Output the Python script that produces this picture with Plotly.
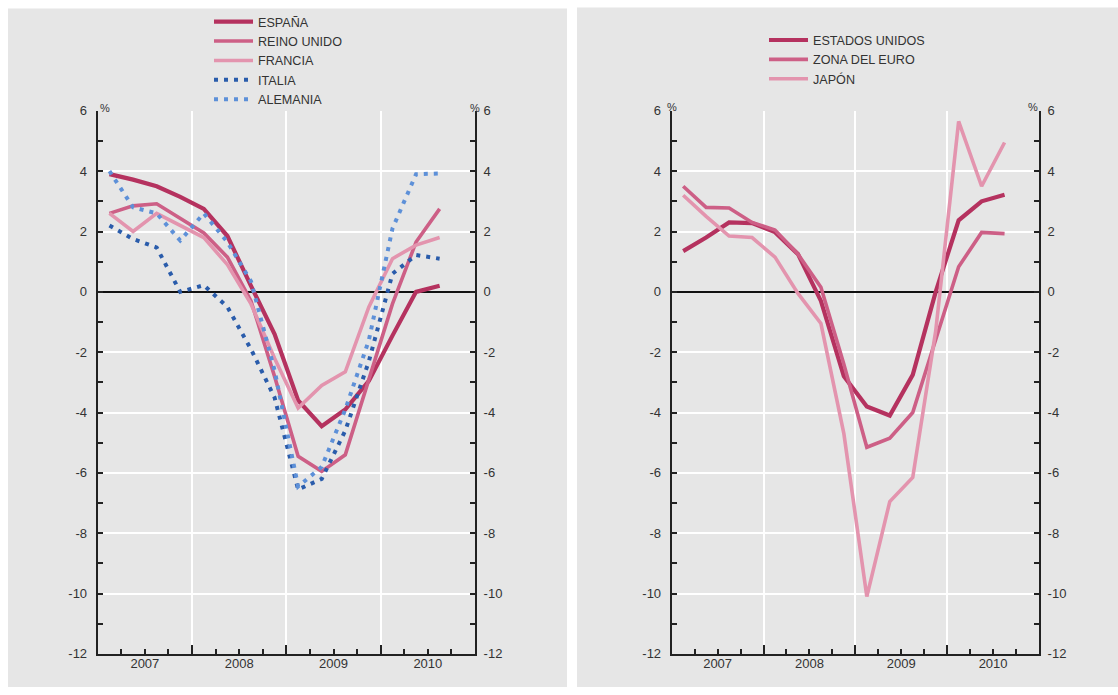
import plotly.graph_objects as go

# ---------------- data ----------------
quarters = ["2007-T1", "2007-T2", "2007-T3", "2007-T4",
            "2008-T1", "2008-T2", "2008-T3", "2008-T4",
            "2009-T1", "2009-T2", "2009-T3", "2009-T4",
            "2010-T1", "2010-T2", "2010-T3"]
years = ["2007", "2008", "2009", "2010"]
y_tick_values = [6, 4, 2, 0, -2, -4, -6, -8, -10, -12]
y_tick_labels = ["6", "4", "2", "0", "-2", "-4", "-6", "-8", "-10", "-12"]

espana = [3.9, 3.72, 3.5, 3.15, 2.75, 1.85, 0.2, -1.4, -3.6, -4.45, -3.9, -2.95, -1.45, 0.0, 0.2]
reino_unido = [2.6, 2.85, 2.92, 2.45, 1.95, 1.15, -0.3, -2.8, -5.45, -5.95, -5.4, -2.9, -0.4, 1.65, 2.75]
francia = [2.6, 2.0, 2.6, 2.2, 1.8, 0.9, -0.4, -2.2, -3.85, -3.1, -2.65, -0.5, 1.1, 1.55, 1.8]
italia = [2.2, 1.75, 1.47, 0.0, 0.22, -0.5, -1.9, -3.5, -6.55, -6.2, -4.6, -2.3, 0.6, 1.22, 1.1]
alemania = [4.0, 2.8, 2.6, 1.7, 2.6, 1.65, 0.35, -2.6, -6.45, -5.8, -3.9, -1.6, 2.1, 3.9, 3.92]

estados_unidos = [1.35, 1.8, 2.3, 2.28, 1.98, 1.25, -0.3, -2.8, -3.8, -4.1, -2.75, 0.0, 2.37, 3.0, 3.22]
zona_euro = [3.5, 2.8, 2.78, 2.3, 2.05, 1.25, 0.15, -2.4, -5.15, -4.85, -4.0, -1.6, 0.83, 1.97, 1.93]
japon = [3.2, 2.5, 1.85, 1.8, 1.15, -0.05, -1.05, -4.7, -10.1, -6.95, -6.15, -1.3, 5.65, 3.5, 4.95]

# ---------------- style ----------------
C1 = "#b5325f"
C2 = "#cd5f86"
C3 = "#e394ae"
B1 = "#2a5cab"
B2 = "#5d90d8"
AX = "#222222"
TXT = "#333333"
GRAY = "#e6e6e6"
FONT = "Liberation Sans, Arial, sans-serif"

W, H = 1118, 695

# quarter-indexed numeric axis: each quarter is one unit, points at quarter mid
x_pos = [i + 0.5 for i in range(len(quarters))]
n_q = 4 * len(years)
year_bounds = [4 * k for k in range(len(years) + 1)]
year_mids = [4 * k + 2 for k in range(len(years))]

fig = go.Figure()

left_series = [
    ("ESPAÑA", espana, C1, 4.2, "solid"),
    ("REINO UNIDO", reino_unido, C2, 3.6, "solid"),
    ("FRANCIA", francia, C3, 3.6, "solid"),
    ("ITALIA", italia, B1, 4, "4px,6px"),
    ("ALEMANIA", alemania, B2, 4, "4px,6px"),
]
for name, vals, col, w, dash in left_series:
    fig.add_trace(go.Scatter(x=x_pos, y=vals, name=name, mode="lines",
                             line=dict(color=col, width=w, dash=dash),
                             xaxis="x", yaxis="y", legend="legend"))

right_series = [
    ("ESTADOS UNIDOS", estados_unidos, C1, 4.2),
    ("ZONA DEL EURO", zona_euro, C2, 3.6),
    ("JAPÓN", japon, C3, 3.6),
]
for name, vals, col, w in right_series:
    fig.add_trace(go.Scatter(x=x_pos, y=vals, name=name, mode="lines",
                             line=dict(color=col, width=w),
                             xaxis="x2", yaxis="y3", legend="legend2"))

# invisible helper traces so overlay axes are drawn
for xa, ya in [("x3", "y"), ("x", "y2"), ("x4", "y3"), ("x2", "y4")]:
    fig.add_trace(go.Scatter(x=year_mids, y=[None] * len(year_mids), mode="lines",
                             showlegend=False, hoverinfo="skip", xaxis=xa, yaxis=ya))

y_dom = [1 - 661.2 / H, 1 - 106.1 / H]
xl_dom = [97.7 / W, 475 / W]
xr_dom = [671.7 / W, 1039 / W]

tickfont = dict(family=FONT, size=13, color=TXT)


def x_main(domain, anchor):
    return dict(domain=domain, anchor=anchor, range=[0, n_q], tickmode="array",
                tickvals=year_bounds, ticks="inside", ticklen=9, tickwidth=2,
                tickcolor=AX, showticklabels=False, showgrid=True,
                gridcolor="white", gridwidth=2, showline=True, linecolor=AX,
                linewidth=2, zeroline=False, fixedrange=True,
                minor=dict(dtick=1, tick0=0, ticks="inside", ticklen=5,
                           tickwidth=1.5, tickcolor=AX, showgrid=False))


def x_labels(overlay, anchor):
    return dict(overlaying=overlay, anchor=anchor, range=[0, n_q], tickmode="array",
                tickvals=year_mids, ticktext=years, ticks="", showgrid=False,
                showline=False, zeroline=False, side="bottom", tickfont=tickfont,
                fixedrange=True)


def y_main(anchor):
    return dict(domain=y_dom, anchor=anchor, range=[-12, 6], tickmode="array",
                tickvals=y_tick_values, ticktext=y_tick_labels, ticks="inside",
                ticklen=5, tickwidth=1.5,
                tickcolor=AX, showgrid=True, gridcolor="white", gridwidth=2,
                zeroline=True, zerolinecolor="#111111", zerolinewidth=1.5,
                showline=True, linecolor=AX, linewidth=2, tickfont=tickfont,
                ticklabelstandoff=6, fixedrange=True,
                minor=dict(dtick=1, tick0=0, ticks="inside", ticklen=5,
                           tickwidth=1.5, tickcolor=AX, showgrid=False))


def y_right(overlay, anchor):
    return dict(overlaying=overlay, anchor=anchor, side="right", range=[-12, 6],
                tickmode="array", tickvals=y_tick_values, ticktext=y_tick_labels,
                ticks="inside",
                ticklen=5, tickwidth=1.5, tickcolor=AX, showgrid=False,
                zeroline=False, showline=True, linecolor=AX, linewidth=2,
                tickfont=tickfont, ticklabelstandoff=4, fixedrange=True,
                minor=dict(dtick=1, tick0=0, ticks="inside", ticklen=5,
                           tickwidth=1.5, tickcolor=AX, showgrid=False))


legend_common = dict(font=dict(family=FONT, size=12.6, color=TXT),
                     bgcolor="rgba(0,0,0,0)", borderwidth=0, itemwidth=39,
                     tracegroupgap=0, xanchor="left", yanchor="top",
                     itemclick=False, itemdoubleclick=False)

pct_font = dict(family=FONT, size=11, color=TXT)

fig.update_layout(
    width=W, height=H, autosize=False,
    margin=dict(l=0, r=0, t=0, b=0),
    paper_bgcolor="white", plot_bgcolor="rgba(0,0,0,0)",
    font=dict(family=FONT, size=13, color=TXT),
    xaxis=x_main(xl_dom, "y"),
    xaxis2=x_main(xr_dom, "y3"),
    xaxis3=x_labels("x", "y"),
    xaxis4=x_labels("x2", "y3"),
    yaxis=y_main("x"),
    yaxis2=y_right("y", "x"),
    yaxis3=y_main("x2"),
    yaxis4=y_right("y3", "x2"),
    legend=dict(x=209 / W, y=1.0, **legend_common),
    legend2=dict(x=764 / W, y=1 - 18.7 / H, **legend_common),
    shapes=[
        dict(type="rect", xref="paper", yref="paper", layer="below",
             x0=8 / W, x1=567 / W, y0=0, y1=1 - 1.5 / H,
             fillcolor=GRAY, line=dict(width=0)),
        dict(type="rect", xref="paper", yref="paper", layer="below",
             x0=577 / W, x1=1, y0=0, y1=1 - 0.5 / H,
             fillcolor=GRAY, line=dict(width=0)),
    ],
    annotations=[
        dict(text="%", xref="paper", yref="paper", x=98 / W, y=1 - 95.2 / H,
             showarrow=False, font=pct_font),
        dict(text="%", xref="paper", yref="paper", x=475 / W, y=1 - 95.2 / H,
             showarrow=False, font=pct_font),
        dict(text="%", xref="paper", yref="paper", x=672 / W, y=1 - 94.2 / H,
             showarrow=False, font=pct_font),
        dict(text="%", xref="paper", yref="paper", x=1040 / W, y=1 - 94.2 / H,
             showarrow=False, font=pct_font),
    ],
)

fig.write_html("out.html", config={"displayModeBar": False},
               post_script="document.body.style.margin='0px';"
                           "document.body.style.overflow='hidden';")
